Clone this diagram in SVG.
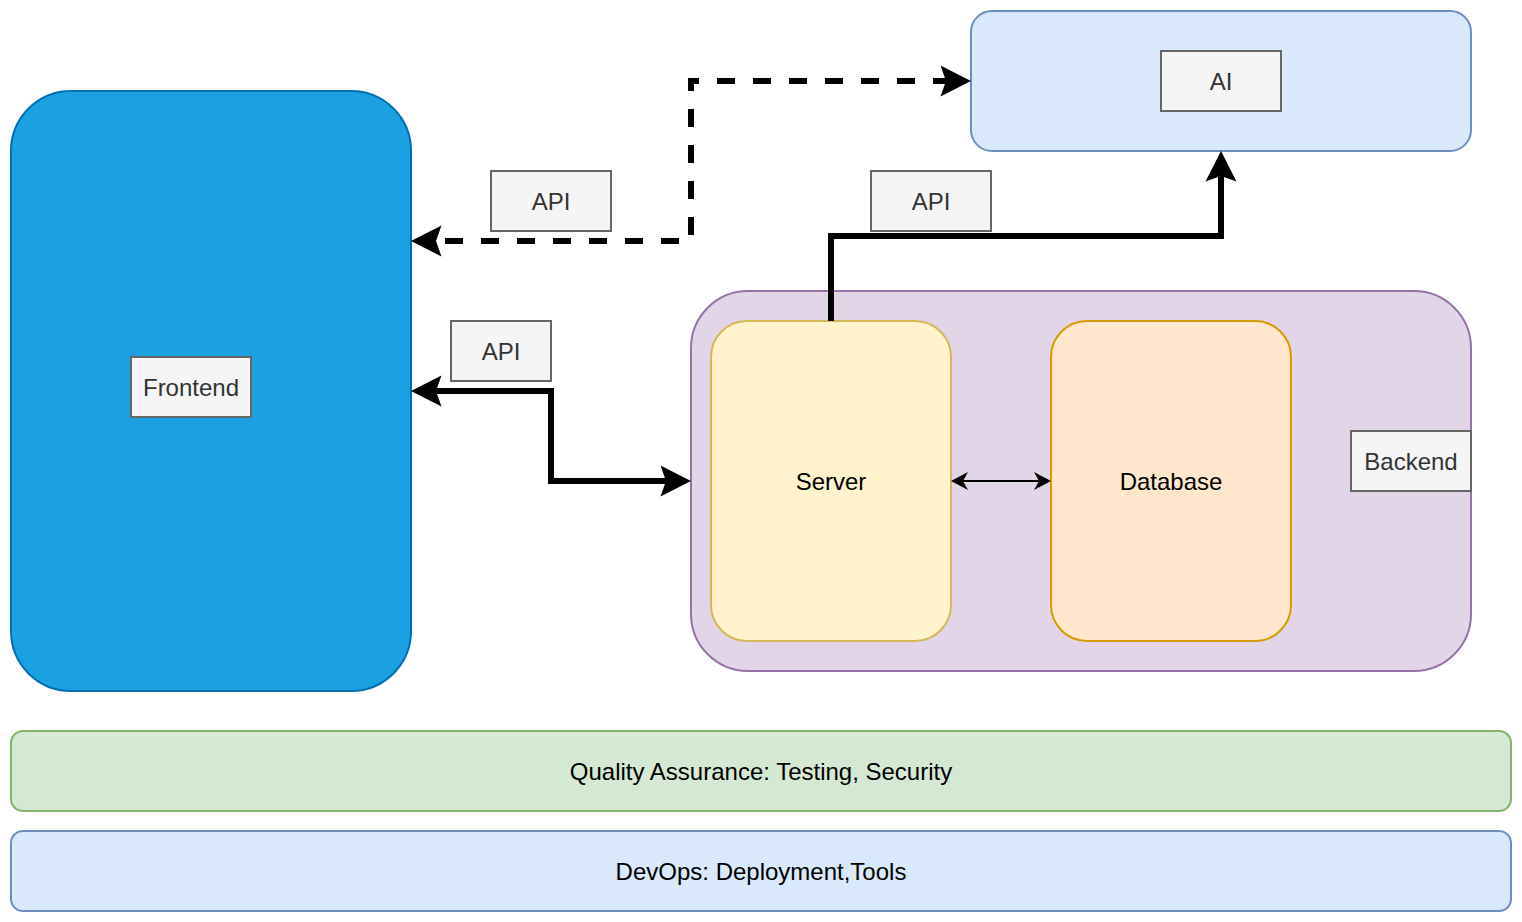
<svg xmlns="http://www.w3.org/2000/svg" width="1522" height="922" viewBox="0 0 1522 922">
<style>
text{font-family:"Liberation Sans",Arial,sans-serif;font-size:24px;text-anchor:middle;fill:#000}
.lbl rect{fill:#f5f5f5;stroke:#666666;stroke-width:2}
.lbl text{fill:#333333}
.edge{fill:none;stroke:#000;stroke-width:6}
.dash{stroke-dasharray:18 18;stroke-dashoffset:27}
.thin{fill:none;stroke:#000;stroke-width:2}
</style>
<defs>
<marker id="ah" markerUnits="userSpaceOnUse" orient="auto-start-reverse" refX="0" refY="0" markerWidth="40" markerHeight="40" overflow="visible">
<path d="M25,0 L-5.5,-15.5 L0,0 L-5.5,15.5 Z" fill="#000"/>
</marker>
<marker id="ahs" markerUnits="userSpaceOnUse" orient="auto-start-reverse" refX="0" refY="0" markerWidth="30" markerHeight="30" overflow="visible">
<path d="M12,0 L-5,-9 L0,0 L-5,9 Z" fill="#000"/>
</marker>
</defs>
<rect width="1522" height="922" fill="#fff"/>
<g id="frontend">
<rect x="11" y="91" width="400" height="600" rx="60" fill="#1ba1e2" stroke="#006eaf" stroke-width="2"/>
<g class="lbl"><rect x="131" y="357" width="120" height="60"/><text x="191" y="395.5">Frontend</text></g>
</g>
<g id="ai">
<rect x="971" y="11" width="500" height="140" rx="21" fill="#dae8fc" stroke="#6c8ebf" stroke-width="2"/>
<g class="lbl"><rect x="1161" y="51" width="120" height="60"/><text x="1221" y="89.5">AI</text></g>
</g>
<g id="backend">
<rect x="691" y="291" width="780" height="380" rx="57" fill="#e1d5e7" stroke="#9673a6" stroke-width="2"/>
<g class="lbl"><rect x="1351" y="431" width="120" height="60"/><text x="1411" y="469.5">Backend</text></g>
</g>
<g id="server">
<rect x="711" y="321" width="240" height="320" rx="36" fill="#fff2cc" stroke="#d6b656" stroke-width="2"/>
<text x="831" y="489.5">Server</text>
</g>
<g id="database">
<rect x="1051" y="321" width="240" height="320" rx="36" fill="#ffe6cc" stroke="#d79b00" stroke-width="2"/>
<text x="1171" y="489.5">Database</text>
</g>
<g id="qa">
<rect x="11" y="731" width="1500" height="80" rx="12" fill="#d5e8d4" stroke="#82b366" stroke-width="2"/>
<text x="761" y="779.5">Quality Assurance: Testing, Security</text>
</g>
<g id="devops">
<rect x="11" y="831" width="1500" height="80" rx="12" fill="#dae8fc" stroke="#6c8ebf" stroke-width="2"/>
<text x="761" y="879.5">DevOps: Deployment,Tools</text>
</g>
<g id="connectors">
<path class="edge dash" d="M436,241 L691,241 L691,81 L946,81" marker-start="url(#ah)" marker-end="url(#ah)"/>
<path class="edge" d="M436,391 L551,391 L551,481 L666,481" marker-start="url(#ah)" marker-end="url(#ah)"/>
<path class="edge" d="M831,321 L831,236 L1221,236 L1221,176" marker-end="url(#ah)"/>
<path class="thin" d="M963,481 L1039,481" marker-start="url(#ahs)" marker-end="url(#ahs)"/>
</g>
<g id="api1" class="lbl"><rect x="491" y="171" width="120" height="60"/><text x="551" y="209.5">API</text></g>
<g id="api2" class="lbl"><rect x="871" y="171" width="120" height="60"/><text x="931" y="209.5">API</text></g>
<g id="api3" class="lbl"><rect x="451" y="321" width="100" height="60"/><text x="501" y="359.5">API</text></g>
</svg>
